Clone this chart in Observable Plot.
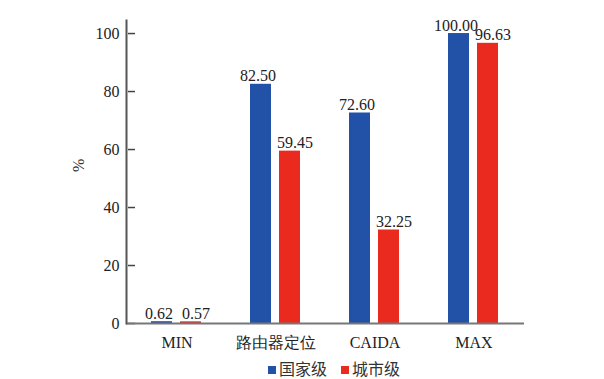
<!DOCTYPE html>
<html><head><meta charset="utf-8">
<script src="https://cdn.jsdelivr.net/npm/d3@7"></script>
<script src="https://cdn.jsdelivr.net/npm/@observablehq/plot@0.6"></script>
<style>
body{margin:0;background:#fff;}
#chart svg{display:block;}
#legend{height:19px;line-height:1;display:flex;justify-content:center;align-items:center;gap:14px;font-family:"Noto Sans CJK SC",sans-serif;font-size:16px;color:#333;padding-left:64px;}
#legend span.sw{display:inline-block;width:8px;height:8px;margin-right:3px;vertical-align:middle;}
</style>
</head><body>
<div id="chart"></div>
<div id="legend"></div>
<script>
const categories = ["MIN", "路由器定位", "CAIDA", "MAX"];
const seriesNames = ["国家级", "城市级"];
const national = [0.62, 82.50, 72.60, 100.00];
const city = [0.57, 59.45, 32.25, 96.63];
const yTicks = [0, 20, 40, 60, 80, 100];
const colors = ["#2152a8", "#ea2a1f"];

const nat = categories.map((c, i) => ({c, v: national[i]}));
const cit = categories.map((c, i) => ({c, v: city[i]}));
const serif = "'Liberation Serif', 'DejaVu Serif', serif";

const plot = Plot.plot({
  width: 604, height: 358,
  marginLeft: 126, marginRight: 80, marginTop: 20, marginBottom: 35,
  style: {fontFamily: serif, fontSize: "16px", color: "#222", background: "transparent"},
  x: {domain: categories, padding: 0, label: null},
  y: {domain: [0, 104.5], label: null},
  marks: [
    Plot.barY(nat, {x: "c", y: "v", fill: colors[0], insetLeft: 24, insetRight: 54}),
    Plot.barY(cit, {x: "c", y: "v", fill: colors[1], insetLeft: 53, insetRight: 25}),
    Plot.text(nat, {x: "c", y: "v", text: d => d.v.toFixed(2), dx: -18, dy: -3, lineAnchor: "bottom", fill: "#222", fontSize: 16}),
    Plot.text(cit, {x: "c", y: "v", text: d => d.v.toFixed(2), dx: 19, dy: -3, lineAnchor: "bottom", fill: "#222", fontSize: 16}),
    Plot.axisY({ticks: yTicks, tickSize: 0, tickPadding: 7, tickFormat: d => d, fontSize: 16, fill: "#222"}),
    Plot.tickY(yTicks, {y: d => d, stroke: "#444", strokeWidth: 1.5, insetLeft: 2, insetRight: 389}),
    Plot.axisX({tickSize: 0, tickPadding: 13, fontSize: 16, fill: "#222"}),
    Plot.ruleY([0], {stroke: "#777", strokeWidth: 2}),
    Plot.frame({anchor: "left", stroke: "#555", strokeWidth: 2}),
    Plot.text(["%"], {frameAnchor: "left", dx: -48, rotate: -90, fontSize: 16, fill: "#333"})
  ]
});
document.getElementById("chart").appendChild(plot);

const lg = document.getElementById("legend");
seriesNames.forEach((n, i) => {
  const item = document.createElement("span");
  item.innerHTML = `<span class="sw" style="background:${colors[i]}"></span>${n}`;
  lg.appendChild(item);
});
</script>
</body></html>
